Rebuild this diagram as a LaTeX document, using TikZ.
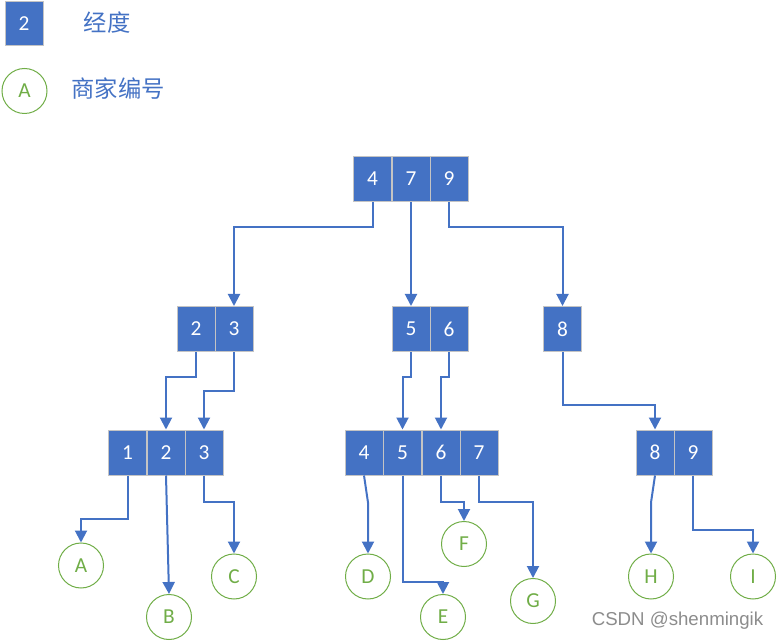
\documentclass[tikz,border=0pt]{standalone}
\usepackage{fontspec}
\setmainfont{Carlito}
\newfontfamily\cjk{Noto Sans CJK SC}
\newfontfamily\wmfont{Liberation Sans}
\usetikzlibrary{arrows.meta}
\definecolor{keyblue}{HTML}{4472C4}
\definecolor{shopgreen}{HTML}{70AD47}
\definecolor{rimgray}{HTML}{C4C4C4}
\tikzset{
  cell/.style={draw=rimgray,line width=.75pt,fill=keyblue,text=white,
    minimum width=28.5pt,minimum height=33.75pt,inner sep=0pt,font=\fontsize{16}{19}\selectfont},
  shop/.style={circle,draw=shopgreen,line width=.75pt,text=shopgreen,
    minimum size=33.75pt,inner sep=0pt,font=\fontsize{16}{19}\selectfont},
  legend/.style={text=keyblue,font=\cjk\fontsize{17.5}{20}\selectfont},
  link/.style={draw=keyblue,line width=1.5pt,-{Triangle[length=9pt,width=9pt]}}
}
\begin{document}
\begin{tikzpicture}[x=.75pt,y=-.75pt]
\useasboundingbox (0,0) rectangle (778,641);
% legend
\node[cell,minimum height=33pt] (lg1) at (24,24) {2};
\node[legend] (lgt1) at (107,23) {经度};
\node[shop] (lg2) at (24.5,91) {A};
\node[legend] (lgt2) at (118,89) {商家编号};
% root
\foreach\n/\x/\t in {a4/372.5/4, a7/411/7, a9/449/9}
\node[cell] (\n) at (\x,179) {\t};
% second level
\foreach\n/\x/\t in {b2/196/2, b3/234/3, b5/411/5, b6/449/6, b8/562.5/8}
\node[cell] (\n) at (\x,329) {\t};
% leaves
\foreach\n/\x/\t in {c1/127.5/1, c2/166/2, c3/204/3, c4/364/4, c5/402.5/5,
  c6/441/6, c7/479/7, c8/655/8, c9/693/9}
\node[cell] (\n) at (\x,452.5) {\t};
% shops
\foreach\n/\x/\y in {A/81/565.5, B/169/617, C/234/576.5, D/368/576.5, E/443/617,
  F/464/544, G/533/601, H/651/576.5, I/753/576.5}
\node[shop] (\n) at (\x,\y) {\n};
\draw[link] (a4.south) -- ++(0,25) -| (b3.north);
\draw[link] (a7.south) -- (b5.north);
\draw[link] (a9.south) -- ++(0,25) -| (b8.north);
\draw[link] (b2.south) -- ++(0,25) -| (c2.north);
\draw[link] (b3.south) -- ++(0,39) -| (c3.north);
\draw[link] (b5.south) -- ++(0,25) -| (c5.north);
\draw[link] (b6.south) -- ++(0,25) -| (c6.north);
\draw[link] (b8.south) -- ++(0,53) -| (c8.north);
\draw[link] (c1.south) -- ++(0,43) -| (A.north);
\draw[link] (c2.south) -- (B.north);
\draw[link] (c3.south) -- ++(0,26) -| (C.north);
\draw[link] (c4.south) -- ++(4,27) -- (D.north);
\draw[link] (c5.south) -- ++(0,106) -| (E.north);
\draw[link] (c6.south) -- ++(0,26) -| (F.north);
\draw[link] (c7.south) -- ++(0,26) -| (G.north);
\draw[link] (c8.south) -- ++(-4,27) -- (H.north);
\draw[link] (c9.south) -- ++(0,54) -| (I.north);
\node[text=black!45,font=\wmfont\fontsize{14}{17}\selectfont] (wm) at (677.5,621) {CSDN @shenmingik};
\end{tikzpicture}
\end{document}
